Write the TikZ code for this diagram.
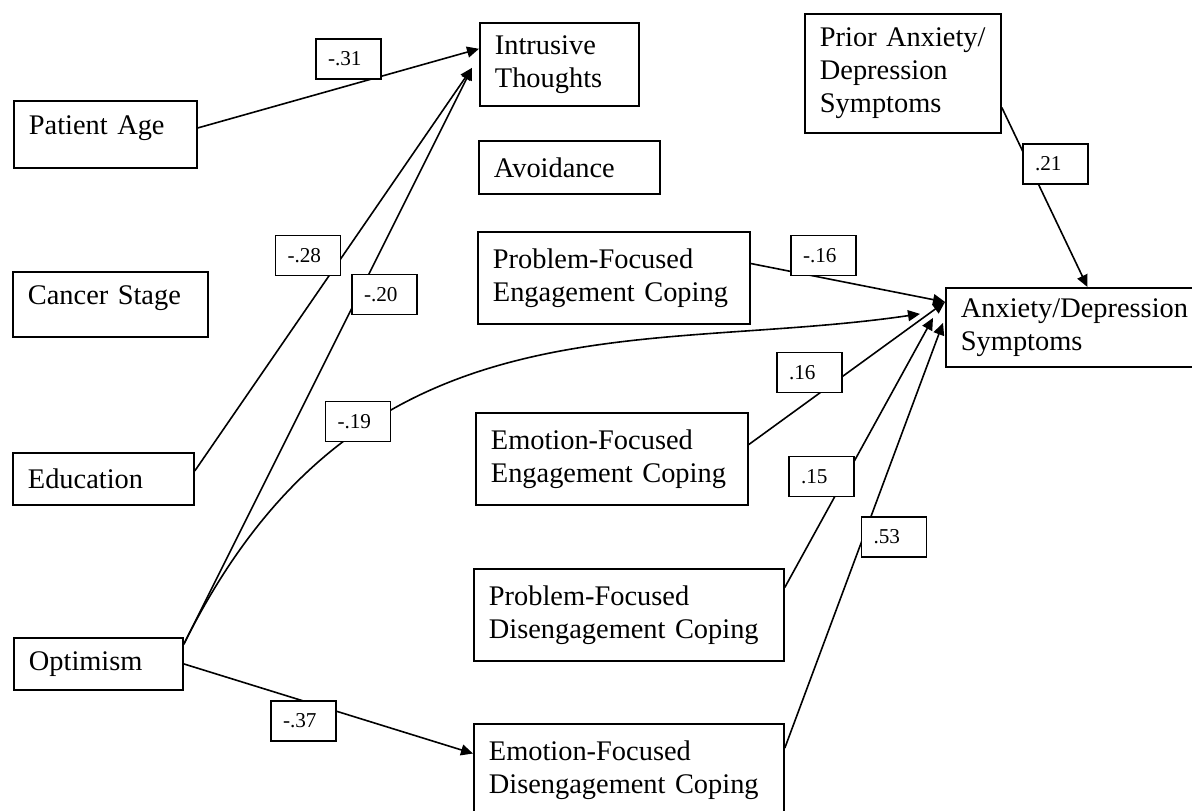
\documentclass[tikz,border=0pt]{standalone}
\usepackage{fontspec}
\setmainfont{Liberation Serif}
\usetikzlibrary{calc}
\usetikzlibrary{arrows.meta}

\begin{document}
\begin{tikzpicture}[x=0.5pt,y=-0.5pt,
  every node/.style={draw,rectangle,line width=0.9pt,align=left},
  var/.style={anchor=north west,inner xsep=7.5pt,inner ysep=0pt,
    font=\fontsize{14.2}{16.5}\selectfont},
  coef/.style={fill=white,inner xsep=6pt,inner ysep=0pt,text width=20.5pt,
    minimum height=20pt,font=\fontsize{10.6}{12}\selectfont},
  effect/.style={line width=0.8pt,-{Triangle[length=6pt,width=5.5pt]}}]
  \useasboundingbox (0,0) rectangle (1192,810);

  % predictors
  \node [var, text width=76.5pt, minimum height=33.5pt, text depth=9pt] (age) at (13,100) {Patient Age};
  \node [var, text width=82.5pt, minimum height=32.5pt, text depth=9pt] (stage) at (12,271) {Cancer Stage};
  \node [var, text width=75.5pt, minimum height=26pt] (edu) at (12,452) {Education};
  \node [var, text width=69.5pt, minimum height=26pt] (opt) at (13,637) {Optimism};

  % mediators
  \node [var, text width=64.5pt, minimum height=41.5pt] (intr) at (479,22) {Intrusive\\Thoughts};
  \node [var, text width=75.5pt, minimum height=26.5pt] (avoid) at (478,140) {Avoidance};
  \node [var, text width=121pt, minimum height=46pt] (pfe) at (477,231) {Problem-Focused\\Engagement Coping};
  \node [var, text width=121pt, minimum height=46pt] (efe) at (475,412) {Emotion-Focused\\Engagement Coping};
  \node [var, text width=140pt, minimum height=46pt] (pfd) at (473,568) {Problem-Focused\\Disengagement Coping};
  \node [var, text width=140pt, minimum height=46pt] (efd) at (473,723) {Emotion-Focused\\Disengagement Coping};

  % outcome
  \node [var, text width=83pt, minimum height=59.5pt] (prior) at (804,13) {Prior Anxiety/\\Depression\\Symptoms};
  \node [var, text width=115pt, minimum height=39.5pt] (anx) at (945,287) {Anxiety/Depression\\Symptoms};

  \draw [effect] (age.4) -- (intr.169);
  \draw [effect] (edu.5) -- ($(intr.west)+(-7,3.5)$);
  \draw [effect] (opt.13) -- ($(intr.west)+(-7,3.5)$);
  \draw [effect] (opt.13) .. controls (360,290) and (640,355) .. ($(anx.west)+(-25,-13.5)$);
  \draw [effect] (opt.east) -- (efd.174);
  \draw [effect] (pfe.6) -- (anx.169);
  \draw [effect] (efe.6) -- (anx.169);
  \draw [effect] (pfd.10) -- ($(anx.west)+(-12,-9.5)$);
  \draw [effect] (efd.8) -- ($(anx.west)+(-2,-4.5)$);
  \draw [effect] (prior.-19) -- (anx.74);

  % path coefficients
  \node [coef] (c31) at (348.5,59) {-.31};
  \node [coef] (c28) at (308,255.5) {-.28};
  \node [coef] (c20) at (384.5,294.5) {-.20};
  \node [coef] (c19) at (358,421.5) {-.19};
  \node [coef] (c37) at (303.5,721) {-.37};
  \node [coef] (c16n) at (823.5,255.5) {-.16};
  \node [coef] (c16p) at (809.5,372.5) {.16};
  \node [coef] (c15) at (821.5,476.5) {.15};
  \node [coef] (c53) at (894,537) {.53};
  \node [coef] (c21) at (1055.5,164) {.21};
\end{tikzpicture}
\end{document}
